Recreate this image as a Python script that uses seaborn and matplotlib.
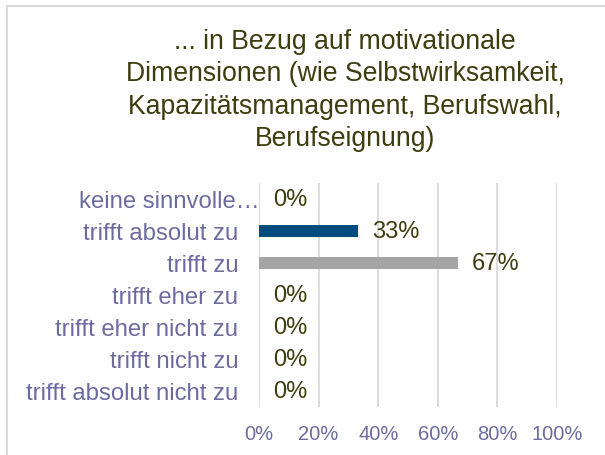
import matplotlib
matplotlib.use("Agg")
import matplotlib.pyplot as plt
import matplotlib.transforms as mtransforms
import seaborn as sns
import pandas as pd
from matplotlib.patches import Rectangle

categories = ["keine sinnvolle…", "trifft absolut zu", "trifft zu", "trifft eher zu",
              "trifft eher nicht zu", "trifft nicht zu", "trifft absolut nicht zu"]
values = [0, 33.33, 66.67, 0, 0, 0, 0]
value_labels = ["0%", "33%", "67%", "0%", "0%", "0%", "0%"]
bar_colors = ["#A5A5A5", "#004C7F", "#A5A5A5", "#A5A5A5", "#A5A5A5", "#A5A5A5", "#A5A5A5"]
xticks = [0, 20, 40, 60, 80, 100]
xtick_labels = ["0%", "20%", "40%", "60%", "80%", "100%"]
title = ("... in Bezug auf motivationale\nDimensionen (wie Selbstwirksamkeit,\n"
         "Kapazitätsmanagement, Berufswahl,\nBerufseignung)")

sns.set_theme(style="white")
plt.rcParams['font.family'] = ['Liberation Sans', 'DejaVu Sans']

W, H = 605, 456
fig = plt.figure(figsize=(W / 100, H / 100), dpi=100)
fig.patch.set_facecolor("white")

# outer chart border
fig.patches.append(Rectangle((7 / W, -0.1), 1.2, 1 - 7 / H + 0.1, transform=fig.transFigure,
                             fill=False, edgecolor="#D9D9D9", linewidth=1.5))

ax = fig.add_axes([259 / W, 1 - 408 / H, 298 / W, 224 / H])
df = pd.DataFrame({"cat": categories, "val": values})
sns.barplot(data=df, y="cat", x="val", hue="cat", palette=bar_colors, order=categories,
            hue_order=categories, width=0.36, legend=False, ax=ax, orient="h",
            saturation=1, edgecolor="none")

ax.set_xlim(0, 100)
ax.set_ylim(len(categories) - 0.5, -0.5)
ax.set_xticks(xticks)
ax.set_xticklabels(xtick_labels)
ax.grid(axis="x", color="#D9D9D9", linewidth=1.3)
ax.grid(axis="y", visible=False)
ax.set_axisbelow(True)
for s in ax.spines.values():
    s.set_visible(False)
ax.set_xlabel("")
ax.set_ylabel("")
ax.tick_params(axis="y", length=0, pad=15, labelsize=17.2, labelcolor="#6B6BA0")
ax.tick_params(axis="x", length=0, pad=12, labelsize=14.5, labelcolor="#6B6BA0")

# the truncated first label reaches further right in the reference
first = ax.get_yticklabels()[0]
first.set_transform(first.get_transform() +
                    mtransforms.ScaledTranslation(21 / 100, 0, fig.dpi_scale_trans))

for i, (v, lab) in enumerate(zip(values, value_labels)):
    ax.annotate(lab, xy=(v, i), xytext=(10, 0), textcoords="offset points",
                ha="left", va="center", fontsize=17, color="#3D3D0F")

fig.text(345 / W, 1 - 90.5 / H, title, ha="center", va="center", fontsize=19.2,
         color="#3D3D0F", linespacing=1.31)

fig.savefig("out.png", dpi=100)
